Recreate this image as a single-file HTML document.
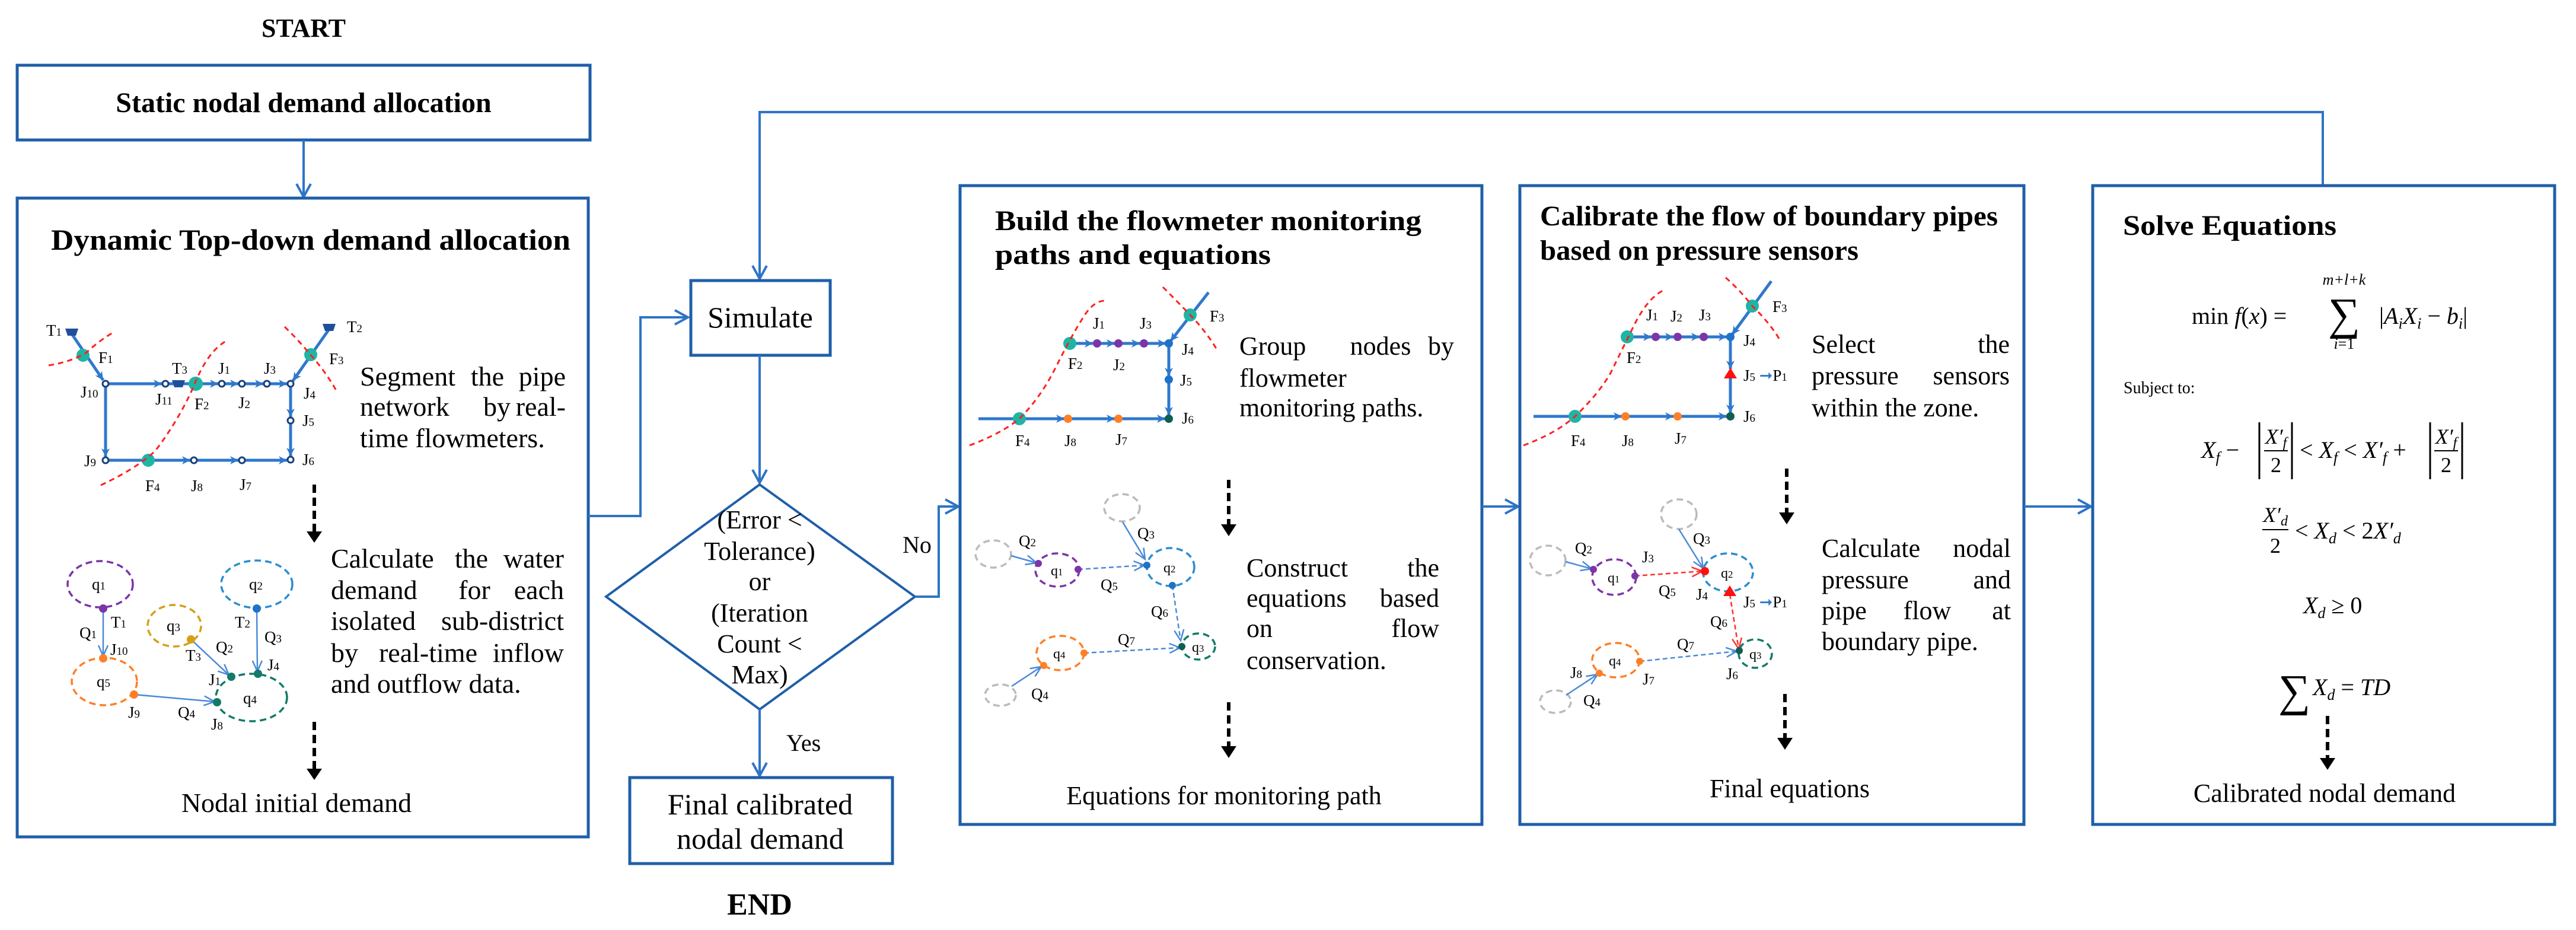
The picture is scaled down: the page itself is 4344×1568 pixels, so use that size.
<!DOCTYPE html>
<html><head><meta charset="utf-8"><style>
html,body{margin:0;padding:0;background:#fff}
svg{display:block}
text{font-family:"Liberation Serif",serif;fill:#000}
.b{font-weight:bold}
.lb{font-size:27px}
.sm{font-size:70%}
.it{font-style:italic}
.e{text-anchor:end}
.m{text-anchor:middle}
</style></head><body>
<svg width="4344" height="1568" viewBox="0 0 4344 1568" xmlns="http://www.w3.org/2000/svg">
<defs>
<marker id="mA" markerUnits="userSpaceOnUse" markerWidth="40" markerHeight="40" refX="28" refY="14" orient="auto"><path d="M6,2 L28,14 L6,26" fill="none" stroke="#2e74c6" stroke-width="4"/></marker>
<marker id="mS" markerUnits="userSpaceOnUse" markerWidth="24" markerHeight="24" refX="16" refY="8" orient="auto"><path d="M2,1 L16,8 L2,15 L6,8 Z" fill="#2f78cc"/></marker>
<marker id="mT" markerUnits="userSpaceOnUse" markerWidth="30" markerHeight="30" refX="20" refY="10" orient="auto"><path d="M2,2 L20,10 L2,18" fill="none" stroke="#4a8ad8" stroke-width="2.5"/></marker>
<marker id="mR" markerUnits="userSpaceOnUse" markerWidth="30" markerHeight="30" refX="20" refY="10" orient="auto"><path d="M2,2 L20,10 L2,18" fill="none" stroke="#ff3030" stroke-width="2.5"/></marker>
</defs>

<text x="512" y="62" text-anchor="middle" class="b" font-size="44">START</text>
<rect x="29" y="110" width="966" height="126" fill="none" stroke="#1f5faa" stroke-width="5"/>
<text x="512" y="189" text-anchor="middle" class="b" font-size="48">Static nodal demand allocation</text>
<line x1="512" y1="236" x2="512" y2="332" stroke="#2e74c6" stroke-width="4" marker-end="url(#mA)"/>

<rect x="29" y="334" width="963" height="1077" fill="none" stroke="#1f5faa" stroke-width="5"/>
<text x="86" y="421" class="b" font-size="50" textLength="876" lengthAdjust="spacingAndGlyphs">Dynamic Top-down demand allocation</text>

<g stroke="#2f78cc" stroke-width="5" fill="none">
<line x1="121" y1="563" x2="174" y2="641" marker-end="url(#mS)"/>
<line x1="178" y1="647" x2="273" y2="647" marker-end="url(#mS)"/>
<line x1="285" y1="647" x2="368" y2="647" marker-end="url(#mS)"/>
<line x1="380" y1="647" x2="402" y2="647" marker-end="url(#mS)"/>
<line x1="414" y1="647" x2="444" y2="647" marker-end="url(#mS)"/>
<line x1="456" y1="647" x2="484" y2="647" marker-end="url(#mS)"/>
<line x1="555" y1="555" x2="494" y2="642" marker-end="url(#mS)"/>
<line x1="490" y1="647" x2="490" y2="703" marker-end="url(#mS)"/>
<line x1="490" y1="715" x2="490" y2="769" marker-end="url(#mS)"/>
<line x1="178" y1="647" x2="178" y2="770" marker-end="url(#mS)"/>
<line x1="178" y1="776" x2="321" y2="776" marker-end="url(#mS)"/>
<line x1="333" y1="776" x2="402" y2="776" marker-end="url(#mS)"/>
<line x1="414" y1="776" x2="484" y2="776" marker-end="url(#mS)"/>
</g>
<g fill="#1fb5a5"><circle cx="140" cy="599" r="11"/><circle cx="330" cy="647" r="12"/><circle cx="524" cy="598" r="11"/><circle cx="250" cy="776" r="11"/></g>
<g fill="#1f4f9a"><path d="M110,554 h22 l-4,12 h-14 z"/><path d="M544,546 h22 l-4,12 h-14 z"/><path d="M290,641 h22 l-4,12 h-14 z"/></g>
<g fill="#fff" stroke="#173f7a" stroke-width="3"><circle cx="178" cy="647" r="5"/><circle cx="279" cy="647" r="5"/><circle cx="374" cy="647" r="5"/><circle cx="408" cy="647" r="5"/><circle cx="450" cy="647" r="5"/><circle cx="490" cy="647" r="5"/><circle cx="490" cy="709" r="5"/><circle cx="490" cy="775" r="5"/><circle cx="178" cy="776" r="5"/><circle cx="327" cy="776" r="5"/><circle cx="408" cy="776" r="5"/></g>
<g stroke="#ff2020" stroke-width="3" stroke-dasharray="9,7" fill="none">
<path d="M82,616 Q120,610 145,595 Q170,572 192,560"/>
<path d="M170,818 Q230,790 262,760 Q300,710 325,655 Q350,590 385,573"/>
<path d="M480,551 Q505,575 525,600 Q548,625 568,660"/>
</g>
<g class="lb">
<text x="78" y="566">T<tspan class="sm">1</tspan></text>
<text x="166" y="612">F<tspan class="sm">1</tspan></text>
<text x="290" y="630">T<tspan class="sm">3</tspan></text>
<text x="368" y="630">J<tspan class="sm">1</tspan></text>
<text x="445" y="630">J<tspan class="sm">3</tspan></text>
<text x="555" y="614">F<tspan class="sm">3</tspan></text>
<text x="585" y="560">T<tspan class="sm">2</tspan></text>
<text x="136" y="670">J<tspan class="sm">10</tspan></text>
<text x="262" y="682">J<tspan class="sm">11</tspan></text>
<text x="328" y="690">F<tspan class="sm">2</tspan></text>
<text x="402" y="688">J<tspan class="sm">2</tspan></text>
<text x="512" y="672">J<tspan class="sm">4</tspan></text>
<text x="510" y="718">J<tspan class="sm">5</tspan></text>
<text x="510" y="784">J<tspan class="sm">6</tspan></text>
<text x="142" y="786">J<tspan class="sm">9</tspan></text>
<text x="245" y="828">F<tspan class="sm">4</tspan></text>
<text x="322" y="828">J<tspan class="sm">8</tspan></text>
<text x="404" y="826">J<tspan class="sm">7</tspan></text>
</g>
<g font-size="46">
<text x="607" y="650">Segment</text><text x="822" y="650" class="m">the</text><text x="954" y="650" class="e">pipe</text>
<text x="607" y="701">network</text><text x="838" y="701" class="m">by</text><text x="954" y="701" class="e">real-</text>
<text x="607" y="754">time flowmeters.</text>
</g>
<line x1="530" y1="817" x2="530" y2="898" stroke="#000" stroke-width="6" stroke-dasharray="14,8"/>
<path d="M517,896 L543,896 L530,915 Z" fill="#000"/>

<g stroke-width="3.5" stroke-dasharray="11,7" fill="none">
<ellipse cx="169" cy="985" rx="55" ry="39" stroke="#7b35a8"/>
<ellipse cx="433" cy="985" rx="60" ry="40" stroke="#2a8ed0"/>
<ellipse cx="294" cy="1055" rx="45" ry="35" stroke="#d4a017"/>
<ellipse cx="176" cy="1149" rx="55" ry="40" stroke="#ff7f27"/>
<ellipse cx="424" cy="1176" rx="60" ry="40" stroke="#137a6a"/>
</g>
<g stroke="#4a8ad8" stroke-width="2.5" fill="none">
<line x1="174" y1="1026" x2="174" y2="1106" marker-end="url(#mT)"/>
<line x1="433" y1="1026" x2="434" y2="1132" marker-end="url(#mT)"/>
<line x1="322" y1="1078" x2="386" y2="1138" marker-end="url(#mT)"/>
<line x1="226" y1="1171" x2="362" y2="1183" marker-end="url(#mT)"/>
</g>
<circle cx="174" cy="1026" r="7" fill="#7b35a8"/><circle cx="433" cy="1026" r="7" fill="#1f72c8"/>
<circle cx="322" cy="1078" r="7" fill="#d4a017"/><circle cx="174" cy="1110" r="7" fill="#ff7f27"/><circle cx="226" cy="1171" r="7" fill="#ff7f27"/>
<circle cx="390" cy="1141" r="7" fill="#137a6a"/><circle cx="435" cy="1136" r="7" fill="#137a6a"/><circle cx="366" cy="1184" r="7" fill="#137a6a"/>
<g class="lb">
<text x="155" y="994">q<tspan class="sm">1</tspan></text>
<text x="420" y="994">q<tspan class="sm">2</tspan></text>
<text x="281" y="1064">q<tspan class="sm">3</tspan></text>
<text x="163" y="1158">q<tspan class="sm">5</tspan></text>
<text x="410" y="1186">q<tspan class="sm">4</tspan></text>
<text x="187" y="1058">T<tspan class="sm">1</tspan></text>
<text x="134" y="1076">Q<tspan class="sm">1</tspan></text>
<text x="186" y="1104">J<tspan class="sm">10</tspan></text>
<text x="313" y="1114">T<tspan class="sm">3</tspan></text>
<text x="364" y="1100">Q<tspan class="sm">2</tspan></text>
<text x="396" y="1058">T<tspan class="sm">2</tspan></text>
<text x="446" y="1083">Q<tspan class="sm">3</tspan></text>
<text x="451" y="1130">J<tspan class="sm">4</tspan></text>
<text x="352" y="1155">J<tspan class="sm">1</tspan></text>
<text x="216" y="1210">J<tspan class="sm">9</tspan></text>
<text x="300" y="1210">Q<tspan class="sm">4</tspan></text>
<text x="356" y="1230">J<tspan class="sm">8</tspan></text>
</g>
<g font-size="46">
<text x="558" y="957">Calculate</text><text x="795" y="957" class="m">the</text><text x="951" y="957" class="e">water</text>
<text x="558" y="1010">demand</text><text x="800" y="1010" class="m">for</text><text x="951" y="1010" class="e">each</text>
<text x="558" y="1062">isolated</text><text x="951" y="1062" class="e">sub-district</text>
<text x="558" y="1116">by</text><text x="722" y="1116" class="m">real-time</text><text x="951" y="1116" class="e">inflow</text>
<text x="558" y="1168">and outflow data.</text>
</g>
<line x1="530" y1="1217" x2="530" y2="1298" stroke="#000" stroke-width="6" stroke-dasharray="14,8"/>
<path d="M517,1296 L543,1296 L530,1315 Z" fill="#000"/>
<text x="500" y="1369" text-anchor="middle" font-size="46">Nodal initial demand</text>

<polyline points="992,870 1080,870 1080,535 1160,535" fill="none" stroke="#2e74c6" stroke-width="4" marker-end="url(#mA)"/>
<polyline points="3917,313 3917,189 1281,189 1281,470" fill="none" stroke="#2e74c6" stroke-width="4" marker-end="url(#mA)"/>
<rect x="1165" y="473" width="235" height="126" fill="none" stroke="#1f5faa" stroke-width="5"/>
<text x="1282" y="552" text-anchor="middle" font-size="50">Simulate</text>
<line x1="1281" y1="599" x2="1281" y2="814" stroke="#2e74c6" stroke-width="4" marker-end="url(#mA)"/>
<polygon points="1281,817 1543,1006 1281,1196 1022,1006" fill="none" stroke="#1f5faa" stroke-width="4"/>
<g font-size="44" text-anchor="middle">
<text x="1281" y="891">(Error &lt;</text>
<text x="1281" y="944">Tolerance)</text>
<text x="1281" y="995">or</text>
<text x="1281" y="1048">(Iteration</text>
<text x="1281" y="1100">Count &lt;</text>
<text x="1281" y="1152">Max)</text>
</g>
<polyline points="1543,1006 1583,1006 1583,854 1616,854" fill="none" stroke="#2e74c6" stroke-width="4" marker-end="url(#mA)"/>
<text x="1522" y="932" font-size="40">No</text>
<line x1="1281" y1="1196" x2="1281" y2="1308" stroke="#2e74c6" stroke-width="4" marker-end="url(#mA)"/>
<text x="1326" y="1266" font-size="40">Yes</text>
<rect x="1062" y="1311" width="443" height="145" fill="none" stroke="#1f5faa" stroke-width="5"/>
<text x="1282" y="1373" text-anchor="middle" font-size="50">Final calibrated</text>
<text x="1282" y="1431" text-anchor="middle" font-size="50">nodal demand</text>
<text x="1281" y="1542" text-anchor="middle" class="b" font-size="52">END</text>

<rect x="1619" y="313" width="880" height="1077" fill="none" stroke="#1f5faa" stroke-width="5"/>
<text x="1678" y="388" class="b" font-size="48" textLength="719" lengthAdjust="spacingAndGlyphs">Build the flowmeter monitoring</text>
<text x="1678" y="445" class="b" font-size="48" textLength="465" lengthAdjust="spacingAndGlyphs">paths and  equations</text>
<g stroke="#2f78cc" stroke-width="5" fill="none">
<line x1="1804" y1="579" x2="1843" y2="579" marker-end="url(#mS)"/>
<line x1="1850" y1="579" x2="1880" y2="579" marker-end="url(#mS)"/>
<line x1="1886" y1="579" x2="1922" y2="579" marker-end="url(#mS)"/>
<line x1="1929" y1="579" x2="1966" y2="579" marker-end="url(#mS)"/>
<line x1="2038" y1="493" x2="1974" y2="575" marker-end="url(#mS)"/>
<line x1="1971" y1="579" x2="1971" y2="634" marker-end="url(#mS)"/>
<line x1="1971" y1="640" x2="1971" y2="700" marker-end="url(#mS)"/>
<line x1="1650" y1="706" x2="1795" y2="706" marker-end="url(#mS)"/>
<line x1="1801" y1="706" x2="1880" y2="706" marker-end="url(#mS)"/>
<line x1="1886" y1="706" x2="1965" y2="706" marker-end="url(#mS)"/>
</g>
<g fill="#1fb5a5"><circle cx="1804" cy="579" r="11"/><circle cx="2007" cy="531" r="11"/><circle cx="1719" cy="706" r="11"/></g>
<g fill="#7b35a8"><circle cx="1850" cy="579" r="7"/><circle cx="1886" cy="579" r="7"/><circle cx="1929" cy="579" r="7"/></g>
<g fill="#ff7f27"><circle cx="1801" cy="706" r="7"/><circle cx="1886" cy="706" r="7"/></g>
<circle cx="1971" cy="579" r="7" fill="#1f72c8"/>
<circle cx="1971" cy="640" r="7" fill="#1f72c8"/>
<circle cx="1971" cy="706" r="7" fill="#0f5e52"/>
<g stroke="#ff2020" stroke-width="3" stroke-dasharray="9,7" fill="none">
<path d="M1635,751 Q1690,730 1719,706 Q1755,670 1780,620 Q1810,560 1830,530 Q1845,508 1862,507"/>
<path d="M1961,484 Q1985,508 2007,531 Q2035,560 2053,591"/>
</g>
<g class="lb">
<text x="1843" y="554">J<tspan class="sm">1</tspan></text>
<text x="1922" y="554">J<tspan class="sm">3</tspan></text>
<text x="2040" y="542">F<tspan class="sm">3</tspan></text>
<text x="1801" y="622">F<tspan class="sm">2</tspan></text>
<text x="1877" y="624">J<tspan class="sm">2</tspan></text>
<text x="1993" y="598">J<tspan class="sm">4</tspan></text>
<text x="1990" y="650">J<tspan class="sm">5</tspan></text>
<text x="1993" y="714">J<tspan class="sm">6</tspan></text>
<text x="1712" y="752">F<tspan class="sm">4</tspan></text>
<text x="1795" y="752">J<tspan class="sm">8</tspan></text>
<text x="1881" y="750">J<tspan class="sm">7</tspan></text>
</g>
<g font-size="44">
<text x="2090" y="598">Group</text><text x="2328" y="598" class="m">nodes</text><text x="2452" y="598" class="e">by</text>
<text x="2090" y="652">flowmeter</text>
<text x="2090" y="702">monitoring paths.</text>
</g>
<line x1="2072" y1="809" x2="2072" y2="886" stroke="#000" stroke-width="6" stroke-dasharray="14,8"/>
<path d="M2059,884 L2085,884 L2072,904 Z" fill="#000"/>
<g stroke-width="3.5" stroke-dasharray="11,7" fill="none">
<ellipse cx="1675" cy="934" rx="30" ry="23" stroke="#bbb"/>
<ellipse cx="1892" cy="856" rx="30" ry="23" stroke="#bbb"/>
<ellipse cx="1687" cy="1172" rx="26" ry="18" stroke="#bbb"/>
<ellipse cx="1783" cy="961" rx="37" ry="28" stroke="#7b35a8"/>
<ellipse cx="1974" cy="956" rx="40" ry="32" stroke="#2a8ed0"/>
<ellipse cx="2021" cy="1090" rx="28" ry="22" stroke="#137a6a"/>
<ellipse cx="1788" cy="1101" rx="40" ry="29" stroke="#ff7f27"/>
</g>
<g stroke="#4a8ad8" stroke-width="2.5" fill="none">
<line x1="1705" y1="937" x2="1748" y2="949" marker-end="url(#mT)"/>
<line x1="1893" y1="880" x2="1931" y2="943" marker-end="url(#mT)"/>
<line x1="1706" y1="1157" x2="1756" y2="1124" marker-end="url(#mT)"/>
<line x1="1818" y1="960" x2="1930" y2="953" marker-end="url(#mT)" stroke-dasharray="8,5"/>
<line x1="1977" y1="987" x2="1991" y2="1080" marker-end="url(#mT)" stroke-dasharray="8,5"/>
<line x1="1828" y1="1101" x2="1990" y2="1092" marker-end="url(#mT)" stroke-dasharray="8,5"/>
</g>
<g fill="#7b35a8"><circle cx="1751" cy="950" r="6"/><circle cx="1818" cy="960" r="6"/></g>
<circle cx="1934" cy="953" r="6" fill="#1f72c8"/><circle cx="1977" cy="987" r="6" fill="#1f72c8"/>
<circle cx="1993" cy="1090" r="6" fill="#0f5e52"/>
<circle cx="1828" cy="1101" r="6" fill="#ff7f27"/><circle cx="1760" cy="1122" r="6" fill="#ff7f27"/>
<g class="lb">
<text x="1772" y="970" font-size="24">q<tspan class="sm">1</tspan></text>
<text x="1962" y="965" font-size="24">q<tspan class="sm">2</tspan></text>
<text x="2010" y="1099" font-size="24">q<tspan class="sm">3</tspan></text>
<text x="1776" y="1110" font-size="24">q<tspan class="sm">4</tspan></text>
<text x="1718" y="921">Q<tspan class="sm">2</tspan></text>
<text x="1918" y="908">Q<tspan class="sm">3</tspan></text>
<text x="1856" y="995">Q<tspan class="sm">5</tspan></text>
<text x="1941" y="1040">Q<tspan class="sm">6</tspan></text>
<text x="1885" y="1087">Q<tspan class="sm">7</tspan></text>
<text x="1739" y="1179">Q<tspan class="sm">4</tspan></text>
</g>
<g font-size="44">
<text x="2102" y="972">Construct</text><text x="2427" y="972" class="e">the</text>
<text x="2102" y="1023">equations</text><text x="2427" y="1023" class="e">based</text>
<text x="2102" y="1074">on</text><text x="2427" y="1074" class="e">flow</text>
<text x="2102" y="1128">conservation.</text>
</g>
<line x1="2072" y1="1184" x2="2072" y2="1260" stroke="#000" stroke-width="6" stroke-dasharray="14,8"/>
<path d="M2059,1258 L2085,1258 L2072,1278 Z" fill="#000"/>
<text x="2064" y="1356" text-anchor="middle" font-size="44">Equations for monitoring path</text>
<line x1="2499" y1="854" x2="2560" y2="854" stroke="#2e74c6" stroke-width="4" marker-end="url(#mA)"/>

<rect x="2563" y="313" width="850" height="1077" fill="none" stroke="#1f5faa" stroke-width="5"/>
<text x="2597" y="380" class="b" font-size="48" textLength="772" lengthAdjust="spacingAndGlyphs">Calibrate the flow of boundary pipes</text>
<text x="2597" y="438" class="b" font-size="48" textLength="537" lengthAdjust="spacingAndGlyphs">based on pressure sensors</text>
<g stroke="#2f78cc" stroke-width="5" fill="none">
<line x1="2744" y1="568" x2="2785" y2="568" marker-end="url(#mS)"/>
<line x1="2792" y1="568" x2="2822" y2="568" marker-end="url(#mS)"/>
<line x1="2829" y1="568" x2="2866" y2="568" marker-end="url(#mS)"/>
<line x1="2873" y1="568" x2="2912" y2="568" marker-end="url(#mS)"/>
<line x1="2987" y1="474" x2="2921" y2="564" marker-end="url(#mS)"/>
<line x1="2918" y1="568" x2="2918" y2="622" marker-end="url(#mS)"/>
<line x1="2918" y1="631" x2="2918" y2="696" marker-end="url(#mS)"/>
<line x1="2586" y1="702" x2="2735" y2="702" marker-end="url(#mS)"/>
<line x1="2741" y1="702" x2="2822" y2="702" marker-end="url(#mS)"/>
<line x1="2829" y1="702" x2="2912" y2="702" marker-end="url(#mS)"/>
</g>
<g fill="#1fb5a5"><circle cx="2744" cy="568" r="11"/><circle cx="2955" cy="516" r="11"/><circle cx="2656" cy="702" r="11"/></g>
<g fill="#7b35a8"><circle cx="2792" cy="568" r="7"/><circle cx="2829" cy="568" r="7"/><circle cx="2873" cy="568" r="7"/></g>
<g fill="#ff7f27"><circle cx="2741" cy="702" r="7"/><circle cx="2829" cy="702" r="7"/></g>
<circle cx="2918" cy="568" r="7" fill="#1f72c8"/>
<circle cx="2918" cy="702" r="7" fill="#0f5e52"/>
<path d="M2918,620 L2929,638 L2907,638 Z" fill="#ff1010"/>
<g stroke="#ff2020" stroke-width="3" stroke-dasharray="9,7" fill="none">
<path d="M2569,751 Q2625,730 2656,702 Q2695,665 2716,629 Q2735,590 2750,560 Q2775,505 2804,490"/>
<path d="M2910,468 Q2935,490 2955,516 Q2985,545 3002,574"/>
</g>
<g class="lb">
<text x="2776" y="540">J<tspan class="sm">1</tspan></text>
<text x="2817" y="542">J<tspan class="sm">2</tspan></text>
<text x="2865" y="540">J<tspan class="sm">3</tspan></text>
<text x="2989" y="526">F<tspan class="sm">3</tspan></text>
<text x="2940" y="583">J<tspan class="sm">4</tspan></text>
<text x="2743" y="612">F<tspan class="sm">2</tspan></text>
<text x="2940" y="642">J<tspan class="sm">5</tspan> <tspan fill="#2f78cc">➞</tspan>P<tspan class="sm">1</tspan></text>
<text x="2940" y="711">J<tspan class="sm">6</tspan></text>
<text x="2649" y="752">F<tspan class="sm">4</tspan></text>
<text x="2735" y="752">J<tspan class="sm">8</tspan></text>
<text x="2824" y="748">J<tspan class="sm">7</tspan></text>
</g>
<g font-size="44">
<text x="3055" y="595">Select</text><text x="3389" y="595" class="e">the</text>
<text x="3055" y="648">pressure</text><text x="3389" y="648" class="e">sensors</text>
<text x="3055" y="702">within the zone.</text>
</g>
<line x1="3013" y1="790" x2="3013" y2="866" stroke="#000" stroke-width="6" stroke-dasharray="14,8"/>
<path d="M3000,864 L3026,864 L3013,884 Z" fill="#000"/>
<g stroke-width="3.5" stroke-dasharray="11,7" fill="none">
<ellipse cx="2610" cy="945" rx="30" ry="25" stroke="#bbb"/>
<ellipse cx="2831" cy="867" rx="30" ry="25" stroke="#bbb"/>
<ellipse cx="2623" cy="1183" rx="26" ry="19" stroke="#bbb"/>
<ellipse cx="2722" cy="973" rx="37" ry="30" stroke="#7b35a8"/>
<ellipse cx="2914" cy="965" rx="42" ry="32" stroke="#2a8ed0"/>
<ellipse cx="2960" cy="1102" rx="28" ry="24" stroke="#137a6a"/>
<ellipse cx="2725" cy="1113" rx="40" ry="29" stroke="#ff7f27"/>
</g>
<g stroke="#4a8ad8" stroke-width="2.5" fill="none">
<line x1="2640" y1="947" x2="2684" y2="959" marker-end="url(#mT)"/>
<line x1="2831" y1="892" x2="2872" y2="958" marker-end="url(#mT)"/>
<line x1="2641" y1="1172" x2="2694" y2="1137" marker-end="url(#mT)"/>
<line x1="2765" y1="1115" x2="2929" y2="1098" marker-end="url(#mT)" stroke-dasharray="8,5"/>
</g>
<g stroke="#ff3030" stroke-width="2.5" fill="none" stroke-dasharray="8,5">
<line x1="2757" y1="971" x2="2871" y2="963" marker-end="url(#mR)"/>
<line x1="2917" y1="1002" x2="2932" y2="1094" marker-end="url(#mR)"/>
</g>
<g fill="#7b35a8"><circle cx="2687" cy="960" r="6"/><circle cx="2757" cy="971" r="6"/></g>
<circle cx="2875" cy="963" r="7" fill="#ff1010"/>
<path d="M2917,987 L2928,1005 L2906,1005 Z" fill="#ff1010"/>
<circle cx="2933" cy="1097" r="6" fill="#0f5e52"/>
<circle cx="2765" cy="1115" r="6" fill="#ff7f27"/><circle cx="2697" cy="1135" r="6" fill="#ff7f27"/>
<g class="lb">
<text x="2711" y="982" font-size="24">q<tspan class="sm">1</tspan></text>
<text x="2902" y="974" font-size="24">q<tspan class="sm">2</tspan></text>
<text x="2950" y="1111" font-size="24">q<tspan class="sm">3</tspan></text>
<text x="2713" y="1122" font-size="24">q<tspan class="sm">4</tspan></text>
<text x="2656" y="933">Q<tspan class="sm">2</tspan></text>
<text x="2769" y="948">J<tspan class="sm">3</tspan></text>
<text x="2855" y="917">Q<tspan class="sm">3</tspan></text>
<text x="2797" y="1005">Q<tspan class="sm">5</tspan></text>
<text x="2860" y="1011">J<tspan class="sm">4</tspan></text>
<text x="2940" y="1024">J<tspan class="sm">5</tspan> <tspan fill="#2f78cc">➞</tspan>P<tspan class="sm">1</tspan></text>
<text x="2884" y="1057">Q<tspan class="sm">6</tspan></text>
<text x="2828" y="1095">Q<tspan class="sm">7</tspan></text>
<text x="2911" y="1145">J<tspan class="sm">6</tspan></text>
<text x="2648" y="1143">J<tspan class="sm">8</tspan></text>
<text x="2770" y="1154">J<tspan class="sm">7</tspan></text>
<text x="2670" y="1190">Q<tspan class="sm">4</tspan></text>
</g>
<g font-size="44">
<text x="3072" y="939">Calculate</text><text x="3391" y="939" class="e">nodal</text>
<text x="3072" y="992">pressure</text><text x="3391" y="992" class="e">and</text>
<text x="3072" y="1044">pipe</text><text x="3250" y="1044" class="m">flow</text><text x="3391" y="1044" class="e">at</text>
<text x="3072" y="1096">boundary pipe.</text>
</g>
<line x1="3010" y1="1170" x2="3010" y2="1246" stroke="#000" stroke-width="6" stroke-dasharray="14,8"/>
<path d="M2997,1244 L3023,1244 L3010,1264 Z" fill="#000"/>
<text x="3018" y="1344" text-anchor="middle" font-size="44">Final equations</text>
<line x1="3413" y1="854" x2="3526" y2="854" stroke="#2e74c6" stroke-width="4" marker-end="url(#mA)"/>

<rect x="3529" y="313" width="779" height="1077" fill="none" stroke="#1f5faa" stroke-width="5"/>
<text x="3580" y="396" class="b" font-size="48" textLength="360" lengthAdjust="spacingAndGlyphs">Solve Equations</text>
<g font-size="40">
<text x="3696" y="546">min <tspan class="it">f</tspan>(<tspan class="it">x</tspan>) =</text>
<text x="3953" y="555" text-anchor="middle" font-size="76">∑</text>
<text x="3953" y="480" text-anchor="middle" font-size="26" class="it">m+l+k</text>
<text x="3953" y="588" text-anchor="middle" font-size="26"><tspan class="it">i</tspan>=1</text>
<text x="4012" y="546">|<tspan class="it">A</tspan><tspan class="it" font-size="26" dy="8">i</tspan><tspan class="it" dy="-8">X</tspan><tspan class="it" font-size="26" dy="8">i</tspan><tspan dy="-8"> − </tspan><tspan class="it">b</tspan><tspan class="it" font-size="26" dy="8">i</tspan><tspan dy="-8">|</tspan></text>
</g>
<text x="3581" y="663" font-size="28">Subject to:</text>
<g font-size="40">
<text x="3712" y="772" class="it">X<tspan font-size="26" dy="8">f</tspan><tspan dy="-8" font-style="normal"> −</tspan></text>
<line x1="3810" y1="712" x2="3810" y2="808" stroke="#000" stroke-width="3"/>
<text x="3838" y="748" text-anchor="middle" class="it" font-size="36">X′<tspan font-size="24" dy="6">f</tspan></text>
<line x1="3818" y1="760" x2="3858" y2="760" stroke="#000" stroke-width="2"/>
<text x="3838" y="796" text-anchor="middle" font-size="36">2</text>
<line x1="3865" y1="712" x2="3865" y2="808" stroke="#000" stroke-width="3"/>
<text x="3878" y="772">&lt; <tspan class="it">X</tspan><tspan class="it" font-size="26" dy="8">f</tspan><tspan dy="-8"> &lt; </tspan><tspan class="it">X′</tspan><tspan class="it" font-size="26" dy="8">f</tspan><tspan dy="-8"> +</tspan></text>
<line x1="4098" y1="712" x2="4098" y2="808" stroke="#000" stroke-width="3"/>
<text x="4125" y="748" text-anchor="middle" class="it" font-size="36">X′<tspan font-size="24" dy="6">f</tspan></text>
<line x1="4105" y1="760" x2="4145" y2="760" stroke="#000" stroke-width="2"/>
<text x="4125" y="796" text-anchor="middle" font-size="36">2</text>
<line x1="4152" y1="712" x2="4152" y2="808" stroke="#000" stroke-width="3"/>

<text x="3837" y="880" text-anchor="middle" class="it" font-size="36">X′<tspan font-size="24" dy="6">d</tspan></text>
<line x1="3815" y1="893" x2="3859" y2="893" stroke="#000" stroke-width="2"/>
<text x="3837" y="932" text-anchor="middle" font-size="36">2</text>
<text x="3870" y="908">&lt; <tspan class="it">X</tspan><tspan class="it" font-size="26" dy="8">d</tspan><tspan dy="-8"> &lt; 2</tspan><tspan class="it">X′</tspan><tspan class="it" font-size="26" dy="8">d</tspan></text>

<text x="3884" y="1034"><tspan class="it">X</tspan><tspan class="it" font-size="26" dy="8">d</tspan><tspan dy="-8"> ≥ 0</tspan></text>

<text x="3842" y="1190" font-size="76">∑</text>
<text x="3900" y="1172"><tspan class="it">X</tspan><tspan class="it" font-size="26" dy="8">d</tspan><tspan dy="-8"> = </tspan><tspan class="it">TD</tspan></text>
</g>
<line x1="3925" y1="1207" x2="3925" y2="1280" stroke="#000" stroke-width="6" stroke-dasharray="14,8"/>
<path d="M3912,1278 L3938,1278 L3925,1298 Z" fill="#000"/>
<text x="3920" y="1352" text-anchor="middle" font-size="44">Calibrated nodal demand</text>
</svg>
</body></html>
